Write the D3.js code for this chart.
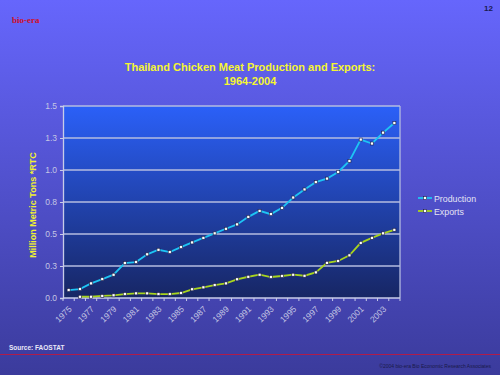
<!DOCTYPE html>
<html lang="en">
<head>
<meta charset="UTF-8">
<script src="https://d3js.org/d3.v7.min.js"></script>
<style>
  body { margin: 0; }
  svg { display: block; font-family: Arial, "Liberation Sans", sans-serif; }
</style>
</head>
<body>
<script>
  var width = 500, height = 375;

  // data
  var years = d3.range(1975, 2005);
  var production = [0.062, 0.07, 0.114, 0.148, 0.182, 0.273, 0.281, 0.341, 0.377, 0.359,
                    0.398, 0.434, 0.47, 0.505, 0.541, 0.575, 0.634, 0.681, 0.655, 0.704,
                    0.785, 0.848, 0.905, 0.933, 0.985, 1.071, 1.238, 1.207, 1.292, 1.367];
  var exports = [null, 0.01, 0.01, 0.016, 0.021, 0.031, 0.036, 0.036, 0.031, 0.031,
                 0.039, 0.068, 0.083, 0.101, 0.114, 0.146, 0.166, 0.182, 0.164, 0.172,
                 0.182, 0.174, 0.2, 0.275, 0.289, 0.333, 0.431, 0.47, 0.505, 0.533];
  var yTicks = [0, 0.25, 0.5, 0.75, 1.0, 1.25, 1.5];
  var yTickLabels = ["0.0", "0.3", "0.5", "0.8", "1.0", "1.3", "1.5"];
  var xLabelYears = d3.range(1975, 2005, 2);

  var plot = {left: 63, right: 400, top: 106, bottom: 298};

  var svg = d3.select("body").append("svg")
      .attr("width", width)
      .attr("height", height);

  var defs = svg.append("defs");
  var bg = defs.append("linearGradient").attr("id", "bg")
      .attr("x1", 0).attr("y1", 0).attr("x2", 0).attr("y2", 1);
  bg.append("stop").attr("offset", "0%").attr("stop-color", "#6666fc");
  bg.append("stop").attr("offset", "100%").attr("stop-color", "#3b3b9c");

  var pg = defs.append("linearGradient").attr("id", "plotbg")
      .attr("x1", 0).attr("y1", 0).attr("x2", 0).attr("y2", 1);
  pg.append("stop").attr("offset", "0%").attr("stop-color", "#2b60f8");
  pg.append("stop").attr("offset", "100%").attr("stop-color", "#172664");

  svg.append("rect").attr("width", width).attr("height", height).attr("fill", "url(#bg)");

  // header bits
  svg.append("text").attr("x", 12).attr("y", 23)
      .attr("font-family", "'Liberation Serif', serif").attr("font-size", 9)
      .attr("font-weight", "bold").attr("fill", "#d0102a").text("bio-era");
  svg.append("text").attr("x", 493).attr("y", 11).attr("text-anchor", "end")
      .attr("font-size", 8).attr("font-weight", "bold").attr("fill", "#1a1a50").text("12");

  // title
  svg.append("text").attr("x", 250).attr("y", 71).attr("text-anchor", "middle")
      .attr("font-size", 11).attr("font-weight", "bold").attr("fill", "#f5f532")
      .text("Thailand Chicken Meat Production and Exports:");
  svg.append("text").attr("x", 250).attr("y", 85).attr("text-anchor", "middle")
      .attr("font-size", 11).attr("font-weight", "bold").attr("fill", "#f5f532")
      .text("1964-2004");

  var x = d3.scaleBand().domain(years).range([plot.left, plot.right]).padding(0);
  var y = d3.scaleLinear().domain([0, 1.5]).range([plot.bottom, plot.top]);
  var cx = function(yr) { return x(yr) + x.bandwidth() / 2; };

  svg.append("rect")
      .attr("x", plot.left).attr("y", plot.top)
      .attr("width", plot.right - plot.left).attr("height", plot.bottom - plot.top)
      .attr("fill", "url(#plotbg)");

  // gridlines
  svg.append("g").selectAll("line").data(yTicks.slice(1)).enter().append("line")
      .attr("x1", plot.left).attr("x2", plot.right)
      .attr("y1", function(d) { return y(d); }).attr("y2", function(d) { return y(d); })
      .attr("stroke", "#b4bce0").attr("stroke-width", 1.3);
  svg.append("line")
      .attr("x1", plot.right).attr("x2", plot.right).attr("y1", plot.top).attr("y2", plot.bottom)
      .attr("stroke", "#b4bce0").attr("stroke-width", 1.3);

  // y axis
  var yAxis = d3.axisLeft(y).tickValues(yTicks).tickSize(3)
      .tickFormat(function(d, i) { return yTickLabels[i]; });
  var gy = svg.append("g").attr("transform", "translate(" + plot.left + ",0)").call(yAxis);
  gy.select(".domain").attr("stroke", "#c8cce8").attr("stroke-width", 1.3);
  gy.selectAll(".tick line").attr("stroke", "#c8cce8");
  gy.selectAll(".tick text").attr("fill", "#c4c6e4").attr("font-size", 8.5)
      .attr("font-family", "Arial, 'Liberation Sans', sans-serif").attr("x", -6);

  // x axis: ticks between categories, labels every other year
  var gx = svg.append("g").attr("transform", "translate(0," + plot.bottom + ")");
  gx.append("line").attr("x1", plot.left).attr("x2", plot.right)
      .attr("stroke", "#c8cce8").attr("stroke-width", 1.3);
  gx.selectAll("line.tk").data(years.concat([null])).enter().append("line")
      .attr("class", "tk")
      .attr("x1", function(d) { return d === null ? plot.right : x(d); })
      .attr("x2", function(d) { return d === null ? plot.right : x(d); })
      .attr("y1", 0).attr("y2", 3)
      .attr("stroke", "#c8cce8");
  gx.selectAll("text").data(xLabelYears).enter().append("text")
      .attr("transform", function(d) { return "translate(" + (cx(d) + 0) + ",8) rotate(-45)"; })
      .attr("text-anchor", "end").attr("dy", "0.6em")
      .attr("font-size", 8.5).attr("fill", "#c4c6e4")
      .text(function(d) { return d; });

  // y axis title
  svg.append("text")
      .attr("transform", "translate(36,205) rotate(-90)")
      .attr("text-anchor", "middle")
      .attr("font-size", 9).attr("font-weight", "bold").attr("fill", "#f0f032")
      .text("Million Metric Tons *RTC");

  // series
  var series = [
    {name: "Production", values: production, color: "#1ec4f4"},
    {name: "Exports", values: exports, color: "#a8d41e"}
  ];

  var line = d3.line()
      .defined(function(d) { return d.v !== null; })
      .x(function(d) { return cx(d.yr); })
      .y(function(d) { return y(d.v); });

  series.forEach(function(s) {
    var pts = years.map(function(yr, i) { return {yr: yr, v: s.values[i]}; });
    svg.append("path").datum(pts)
        .attr("d", line).attr("fill", "none")
        .attr("stroke", s.color).attr("stroke-width", 1.8);
    svg.append("g").selectAll("rect")
        .data(pts.filter(function(d) { return d.v !== null; }))
        .enter().append("rect")
        .attr("x", function(d) { return cx(d.yr) - 1.5; })
        .attr("y", function(d) { return y(d.v) - 1.5; })
        .attr("width", 3).attr("height", 3)
        .attr("fill", "#ffffff").attr("stroke", "#1a1a40").attr("stroke-width", 0.6);
  });

  // legend
  var lg = svg.append("g").attr("transform", "translate(418,198)");
  series.forEach(function(s, i) {
    var g = lg.append("g").attr("transform", "translate(0," + (i * 13) + ")");
    g.append("line").attr("x1", 0).attr("x2", 14).attr("y1", 0).attr("y2", 0)
        .attr("stroke", s.color).attr("stroke-width", 1.8);
    g.append("rect").attr("x", 5.5).attr("y", -1.5).attr("width", 3).attr("height", 3)
        .attr("fill", "#ffffff").attr("stroke", "#1a1a40").attr("stroke-width", 0.6);
    g.append("text").attr("x", 16).attr("y", 3.5)
        .attr("font-size", 8.8).attr("fill", "#e4e4f4").text(s.name);
  });

  // footer
  svg.append("text").attr("x", 9).attr("y", 350)
      .attr("font-size", 6.5).attr("font-weight", "bold").attr("fill", "#e8e8f8")
      .text("Source: FAOSTAT");
  svg.append("line").attr("x1", 0).attr("x2", width).attr("y1", 354.5).attr("y2", 354.5)
      .attr("stroke", "#b01c4a").attr("stroke-width", 1);
  svg.append("text").attr("x", 491).attr("y", 368).attr("text-anchor", "end")
      .attr("font-size", 5).attr("fill", "#1a1a4a")
      .text("\u00a92004 bio-era Bio Economic Research Associates");
</script>
</body>
</html>
